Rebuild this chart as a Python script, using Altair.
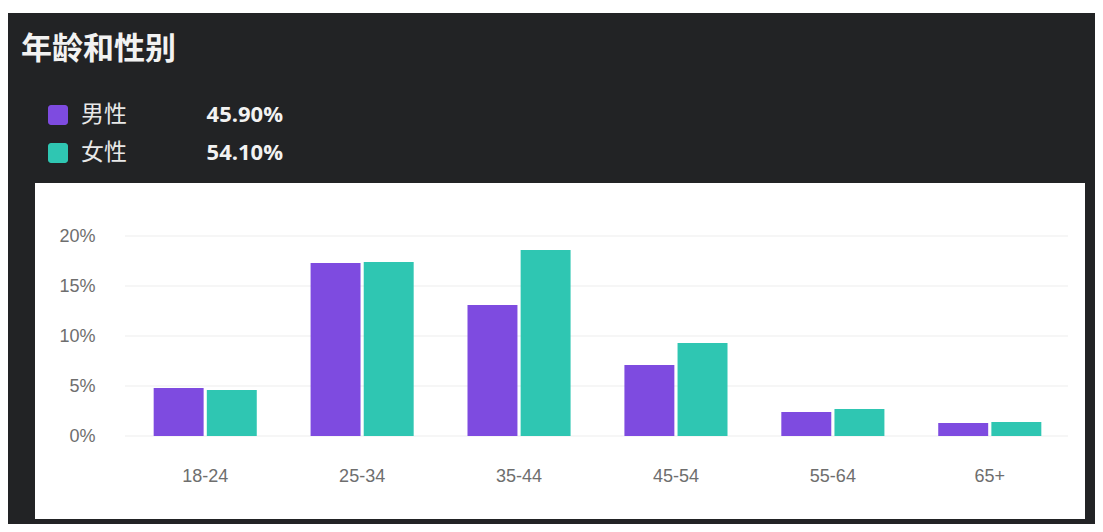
import altair as alt
import pandas as pd

# ---- data ----
title_text = "年龄和性别"
ages = ["18-24", "25-34", "35-44", "45-54", "55-64", "65+"]
sexes = ["男性", "女性"]
male = [4.8, 17.3, 13.1, 7.1, 2.4, 1.3]
female = [4.6, 17.4, 18.6, 9.3, 2.7, 1.4]
totals = ["45.90%", "54.10%"]
y_ticks = [0, 5, 10, 15, 20]
colors = ["#7e4be0", "#2fc6b2"]

rows = []
for a, m, f in zip(ages, male, female):
    rows.append({"age": a, "sex": sexes[0], "value": m})
    rows.append({"age": a, "sex": sexes[1], "value": f})
df = pd.DataFrame(rows)
grid_df = pd.DataFrame({"value": y_ticks})
legend_df = pd.DataFrame({"sex": sexes, "pct": totals})
title_df = pd.DataFrame({"t": [title_text]})
one = pd.DataFrame({"a": [0]})

W, H = 941, 200
PL, PT = 119, 228  # plot origin at page (127, 236)

def rel_x(px):
    return px - 8 - PL

def rel_y(py):
    return py - 8 - PT

color_scale = alt.Scale(domain=sexes, range=colors)
y_scale = alt.Scale(domain=[0, 20])
y_axis = alt.Axis(values=y_ticks, labelExpr="datum.value + '%'", grid=False, domain=False,
                  ticks=False, labelPadding=32, labelFontSize=18, labelColor="#6e6e6e",
                  labelFont="Liberation Sans", title=None, zindex=1)

dark = alt.Chart(one).mark_rect(color="#222325").encode(
    x=alt.value(rel_x(8)), x2=alt.value(rel_x(1095)),
    y=alt.value(rel_y(13)), y2=alt.value(rel_y(524)))
white = alt.Chart(one).mark_rect(color="#ffffff").encode(
    x=alt.value(rel_x(35)), x2=alt.value(rel_x(1085)),
    y=alt.value(rel_y(183)), y2=alt.value(rel_y(519)))

grid = alt.Chart(grid_df).mark_rule(color="#eeeeee", strokeWidth=1.2).encode(
    y=alt.Y("value:Q", scale=y_scale, axis=y_axis),
    x=alt.value(-2), x2=alt.value(W))

bars = alt.Chart(df).mark_bar().encode(
    x=alt.X("age:N", sort=ages,
            scale=alt.Scale(paddingInner=0.343, paddingOuter=0.17),
            axis=alt.Axis(labelAngle=0, domain=False, ticks=False, grid=False,
                          labelPadding=40, labelBaseline="middle", labelFontSize=18,
                          labelColor="#6e6e6e", labelFont="Liberation Sans",
                          title=None, zindex=1)),
    xOffset=alt.XOffset("sex:N", sort=sexes, scale=alt.Scale(paddingInner=0.06)),
    y=alt.Y("value:Q", scale=y_scale, axis=y_axis),
    color=alt.Color("sex:N", scale=color_scale, legend=None),
)

title = alt.Chart(title_df).mark_text(
    align="left", baseline="middle", font="Noto Sans CJK SC", fontSize=31,
    fontWeight="bold", color="#f2f2f2").encode(
    text="t:N", x=alt.value(rel_x(21)), y=alt.value(rel_y(50)))

legend_layers = []
centers = [115, 153]
for i, s in enumerate(sexes):
    d = legend_df[legend_df["sex"] == s]
    cy = centers[i]
    legend_layers.append(alt.Chart(d).mark_rect(cornerRadius=3).encode(
        x=alt.value(rel_x(48)), x2=alt.value(rel_x(68)),
        y=alt.value(rel_y(cy - 10)), y2=alt.value(rel_y(cy + 10)),
        color=alt.Color("sex:N", scale=color_scale, legend=None)))
    legend_layers.append(alt.Chart(d).mark_text(
        align="left", baseline="middle", font="Noto Sans CJK SC", fontSize=23,
        color="#e8e8e8").encode(
        text="sex:N", x=alt.value(rel_x(81)), y=alt.value(rel_y(cy))))
    legend_layers.append(alt.Chart(d).mark_text(
        align="right", baseline="middle", font="Open Sans", fontSize=22,
        fontWeight="bold", color="#f2f2f2").encode(
        text="pct:N", x=alt.value(rel_x(283)), y=alt.value(rel_y(cy))))

chart = alt.layer(dark, white, grid, bars, title, *legend_layers).properties(
    width=W, height=H,
    padding={"left": PL, "top": PT, "right": 27, "bottom": 88},
    autosize=alt.AutoSizeParams(type="none"),
    background="#ffffff",
).configure_view(stroke=None)

chart.save("out.html", embed_options={"renderer": "svg", "actions": False})
